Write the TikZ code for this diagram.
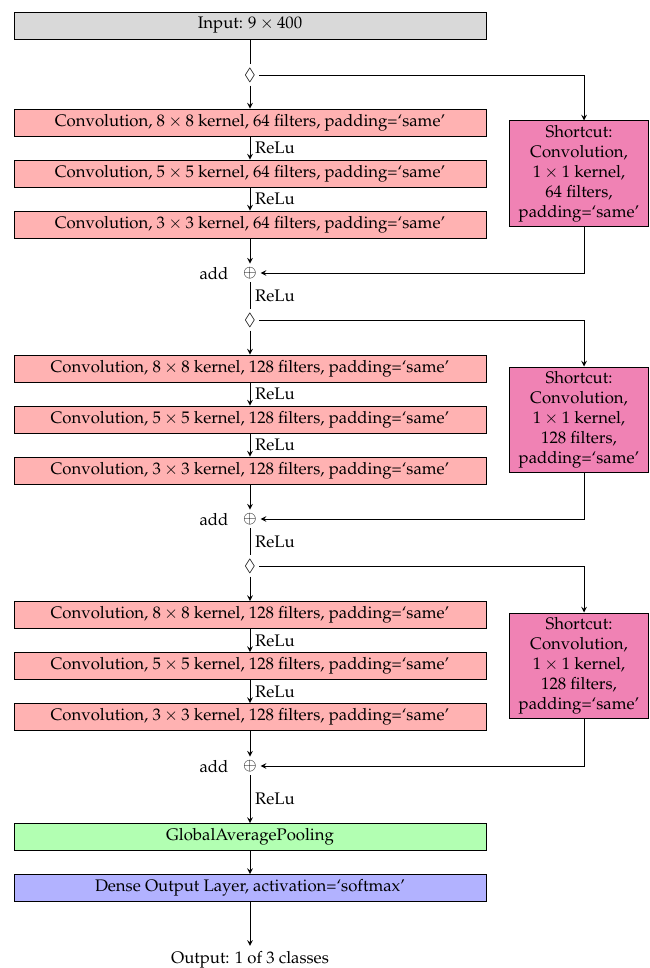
\documentclass[tikz,border=0pt]{standalone}
\usepackage[T1]{fontenc}
\usepackage{mathpazo}
\usepackage{amssymb}
\usepackage{tikz}
\usetikzlibrary{arrows.meta, positioning}
\definecolor{InGray}{RGB}{217, 217, 217}
\definecolor{ConvRed}{RGB}{255, 178, 178}
\definecolor{SkipPink}{RGB}{240, 130, 180}
\definecolor{PoolGreen}{RGB}{178, 255, 178}
\definecolor{DenseBlue}{RGB}{178, 178, 255}
\tikzset{
    layer/.style={rectangle, minimum width=298.8pt, minimum height=17.1pt, inner sep=0pt, text centered, draw=black},
    arrow/.style={->, >=stealth},
}

\begin{document}
\begin{tikzpicture}[
  x=0.633pt, y=-0.633pt, % 1 unit = 1 px of the sketch
  semithick,
  every node/.style={font=\fontsize{10.6}{12.6}\selectfont},
  InputL/.style={layer, fill=InGray},
  ConvL/.style={layer, fill=ConvRed},
  PoolL/.style={layer, fill=PoolGreen},
  DenseL/.style={layer, fill=DenseBlue},
  SkipL/.style={rectangle, draw=black, fill=SkipPink, minimum width=87.4pt, minimum height=66.5pt, inner sep=0pt, align=center},
  Split/.style={inner sep=2pt},
  Join/.style={inner sep=2pt},
  Act/.style={right, inner sep=3pt},
  ]
\useasboundingbox (0,0) rectangle (649,968);

\node[InputL] (input) at (250,25.5) {Input: $9 \times 400$};

% block 1
\node[Split] (split1) at (250,75) {$\lozenge$};
\node[ConvL] (conv11) at (250,122.5) {Convolution, $8 \times 8$ kernel, 64 filters, padding=`same'};
\node[ConvL] (conv12) at (250,173.5) {Convolution, $5 \times 5$ kernel, 64 filters, padding=`same'};
\node[ConvL] (conv13) at (250,224.5) {Convolution, $3 \times 3$ kernel, 64 filters, padding=`same'};
\node[SkipL] (skip1) at (579,173.5) {Shortcut:\\Convolution,\\$1 \times 1$ kernel,\\64 filters,\\padding=`same'};
\node[Join] (add1) at (250,273) {$\oplus$};
\node (addtxt1) at (214,273) {add};
\coordinate (turn1) at (584,75);

% block 2
\node[Split] (split2) at (250,320) {$\lozenge$};
\node[ConvL] (conv21) at (250,368.5) {Convolution, $8 \times 8$ kernel, 128 filters, padding=`same'};
\node[ConvL] (conv22) at (250,419.5) {Convolution, $5 \times 5$ kernel, 128 filters, padding=`same'};
\node[ConvL] (conv23) at (250,470.5) {Convolution, $3 \times 3$ kernel, 128 filters, padding=`same'};
\node[SkipL] (skip2) at (579,419.5) {Shortcut:\\Convolution,\\$1 \times 1$ kernel,\\128 filters,\\padding=`same'};
\node[Join] (add2) at (250,519) {$\oplus$};
\node (addtxt2) at (214,519) {add};
\coordinate (turn2) at (584,320);

% block 3
\node[Split] (split3) at (250,566) {$\lozenge$};
\node[ConvL] (conv31) at (250,615) {Convolution, $8 \times 8$ kernel, 128 filters, padding=`same'};
\node[ConvL] (conv32) at (250,666) {Convolution, $5 \times 5$ kernel, 128 filters, padding=`same'};
\node[ConvL] (conv33) at (250,717) {Convolution, $3 \times 3$ kernel, 128 filters, padding=`same'};
\node[SkipL] (skip3) at (579,665.5) {Shortcut:\\Convolution,\\$1 \times 1$ kernel,\\128 filters,\\padding=`same'};
\node[Join] (add3) at (250,766) {$\oplus$};
\node (addtxt3) at (214,766) {add};
\coordinate (turn3) at (584,566);

\node[PoolL] (pool) at (250,837) {GlobalAveragePooling};
\node[DenseL] (dense) at (250,888) {Dense Output Layer, activation=`softmax'};
\node (output) at (250,960) {Output: 1 of 3 classes};

% main path
\draw (input) -- (split1);
\draw[arrow] (split1) -- (conv11);
\draw[arrow] (conv11) -- node[Act] (relu11) {ReLu} (conv12);
\draw[arrow] (conv12) -- node[Act] (relu12) {ReLu} (conv13);
\draw[arrow] (conv13) -- (add1);
\draw (add1) -- node[Act] (relu13) {ReLu} (split2);
\draw[arrow] (split2) -- (conv21);
\draw[arrow] (conv21) -- node[Act] (relu21) {ReLu} (conv22);
\draw[arrow] (conv22) -- node[Act] (relu22) {ReLu} (conv23);
\draw[arrow] (conv23) -- (add2);
\draw (add2) -- node[Act] (relu23) {ReLu} (split3);
\draw[arrow] (split3) -- (conv31);
\draw[arrow] (conv31) -- node[Act] (relu31) {ReLu} (conv32);
\draw[arrow] (conv32) -- node[Act] (relu32) {ReLu} (conv33);
\draw[arrow] (conv33) -- (add3);
\draw[arrow] (add3) -- node[Act] (relu33) {ReLu} (pool);
\draw[arrow] (pool) -- (dense);
\draw[arrow] (dense) -- (output);

% shortcuts
\draw[arrow] (split1) -- (turn1) -- (turn1 |- skip1.north);
\draw[arrow] (skip1.south -| turn1) |- (add1);
\draw[arrow] (split2) -- (turn2) -- (turn2 |- skip2.north);
\draw[arrow] (skip2.south -| turn2) |- (add2);
\draw[arrow] (split3) -- (turn3) -- (turn3 |- skip3.north);
\draw[arrow] (skip3.south -| turn3) |- (add3);

\end{tikzpicture}
\end{document}
